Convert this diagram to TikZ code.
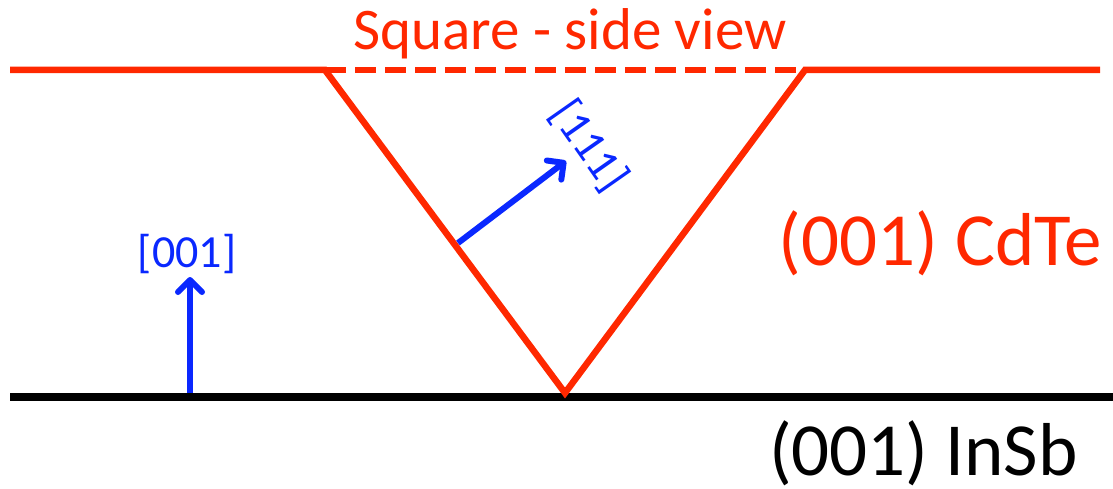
\documentclass[tikz,border=0pt]{standalone}
\usepackage{fontspec}
\setmainfont{Carlito}
\usepackage{tikz}
\usetikzlibrary{positioning,arrows.meta}
\definecolor{filmred}{RGB}{255,40,0}
\definecolor{dirblue}{RGB}{10,40,255}
\begin{document}
\begin{tikzpicture}[
x=1pt, y=-1pt,
film/.style={draw=filmred, line width=6.5pt},
substrate/.style={draw=black, line width=7.5pt},
dirarrow/.style={-{Straight Barb[length=12pt, width=24pt, line width=6pt, round]}, line width=6pt, dirblue},
dirlabel/.style={dirblue, font=\fontsize{46}{46}\selectfont, inner sep=0pt},
bigred/.style={filmred, font=\fontsize{75}{75}\selectfont, inner sep=0pt},
bigblack/.style={black, font=\fontsize{75}{75}\selectfont, inner sep=0pt}
]
\useasboundingbox (0,0) rectangle (1113,489);
% interface and film surface
\coordinate (sl) at (10,70);
\coordinate (sr) at (1100,70);
\coordinate (pl) at (325,70);
\coordinate (pr) at (805,70);
\coordinate (apex) at (565,393);
\coordinate (il) at (10,397);
\coordinate (ir) at (1113,397);
\draw[substrate] (il) -- (ir);
\draw[film] (sl) -- (pl) -- (apex) -- (pr) -- (sr);
\draw[film, dash pattern=on 21pt off 9pt] (pl) -- (pr);
% labels
\node[filmred, font=\fontsize{59}{59}\selectfont, inner sep=0pt] (title) at (570,34) {Square - side view};
\node[bigred, anchor=east] (cdte) at (1102,243) {(001) CdTe};
\node[bigblack, anchor=east] (insb) at (1078,453) {(001) InSb};
% directions
\coordinate (b0) at (190,393);
\coordinate (b1) at (190,277);
\draw[dirarrow] (b0) -- (b1);
\node[dirlabel] (n001) at (187,254) {[001]};
\coordinate (f0) at (458,243);
\coordinate (f1) at (566,161);
\draw[dirarrow] (f0) -- (f1);
\node[dirlabel, rotate=-55] (n111) at (589,146) {[111]};
\end{tikzpicture}
\end{document}
